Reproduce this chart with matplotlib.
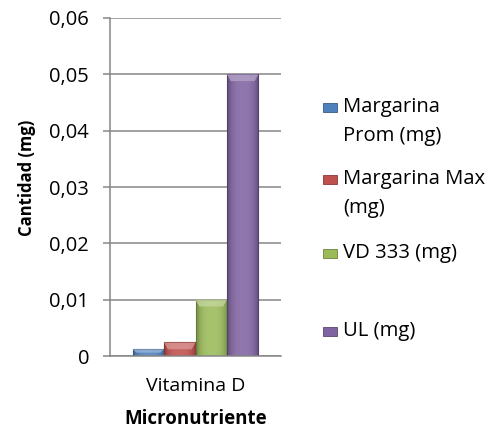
import numpy as np
import matplotlib
matplotlib.use("Agg")
import matplotlib.pyplot as plt
from matplotlib.patches import Rectangle, Polygon
from matplotlib.ticker import FuncFormatter
from matplotlib.colors import to_rgb

plt.rcParams["font.family"] = ["Open Sans", "DejaVu Sans"]

# Vitamin D content per series (mg)
category = "Vitamina D"
series = ["Margarina\nProm (mg)", "Margarina Max\n(mg)", "VD 333 (mg)", "UL (mg)"]
values = [0.0012, 0.0024, 0.010, 0.050]
colors = ["#4F81BD", "#C0504D", "#9BBB59", "#8064A2"]

W, H = 499, 434


def shade(c, f):
    r = np.array(to_rgb(c))
    if f >= 0:
        return tuple(r + (1 - r) * f)
    return tuple(r * (1 + f))


def bevel_bar(ax, x0, w, h, color):
    # horizontal gradient: darker at the sides, lighter in the middle
    t = np.linspace(0, 1, 64)
    prof = 1 - (2 * np.abs(t - 0.5)) ** 3
    dark = np.array(shade(color, -0.25))
    light = np.array(shade(color, 0.12))
    img = dark[None, :] + (light - dark)[None, :] * prof[:, None]
    img = img[None, :, :]
    im = ax.imshow(img, extent=(x0, x0 + w, 0, h), aspect="auto",
                   interpolation="bilinear", zorder=3)
    clip = Rectangle((x0, 0), w, h, transform=ax.transData)
    im.set_clip_path(clip)
    ax.add_patch(Rectangle((x0, 0), w, h, fill=False,
                           edgecolor=shade(color, -0.35), lw=0.8, zorder=4))
    # light top bevel
    bh = min(h * 0.5, 0.0012)
    ax.add_patch(Polygon([(x0, h), (x0 + w, h), (x0 + w * 0.88, h - bh),
                          (x0 + w * 0.12, h - bh)], closed=True,
                         facecolor=shade(color, 0.4), edgecolor="none",
                         alpha=0.8, zorder=4))


fig = plt.figure(figsize=(W / 100, H / 100), dpi=100)
ax = fig.add_axes([110 / W, 1 - 356 / H, 171 / W, 338 / H])

n = len(values)
bw = 0.184
offsets = (np.arange(n) - (n - 1) / 2) * bw
for off, v, c in zip(offsets, values, colors):
    bevel_bar(ax, off - bw / 2, bw, v, c)

ax.set_xlim(-0.5, 0.5)
ax.set_ylim(0, 0.06)
ax.set_yticks(np.arange(0, 0.061, 0.01))
ax.yaxis.set_major_formatter(FuncFormatter(
    lambda v, p: "0" if abs(v) < 1e-12 else f"{v:.2f}".replace(".", ",")))
ax.set_xticks([0])
ax.set_xticklabels([category])
ax.tick_params(axis="x", length=0, pad=15, labelsize=14)
ax.tick_params(axis="y", length=5, width=1.1, color="#868686", pad=10,
               labelsize=14.5)
ax.grid(axis="y", color="#868686", lw=1.1, zorder=0)
ax.set_axisbelow(True)
for s in ["top", "right"]:
    ax.spines[s].set_visible(False)
for s in ["left", "bottom"]:
    ax.spines[s].set_color("#868686")
    ax.spines[s].set_linewidth(1.1)
ax.spines["bottom"].set_zorder(5)

ax.set_ylabel("Cantidad (mg)", fontsize=12, fontweight="bold")
ax.yaxis.set_label_coords(-0.43, 0.527)
ax.set_xlabel("Micronutriente", fontsize=13.5, fontweight="bold", labelpad=10)

# legend entries placed down the right side
leg_y = [107, 179, 253, 331]
line_step = 29
for lbl, c, yp in zip(series, colors, leg_y):
    fig.patches.append(Rectangle((323 / W, 1 - (yp + 4.5) / H), 14 / W, 9 / H,
                                 transform=fig.transFigure,
                                 facecolor=c, edgecolor=shade(c, -0.3), lw=0.6))
    for k, line in enumerate(lbl.split("\n")):
        fig.text(343 / W, 1 - (yp + 5 + k * line_step) / H, line,
                 fontsize=14.6, va="baseline", ha="left")

fig.savefig("out.png", dpi=100)
